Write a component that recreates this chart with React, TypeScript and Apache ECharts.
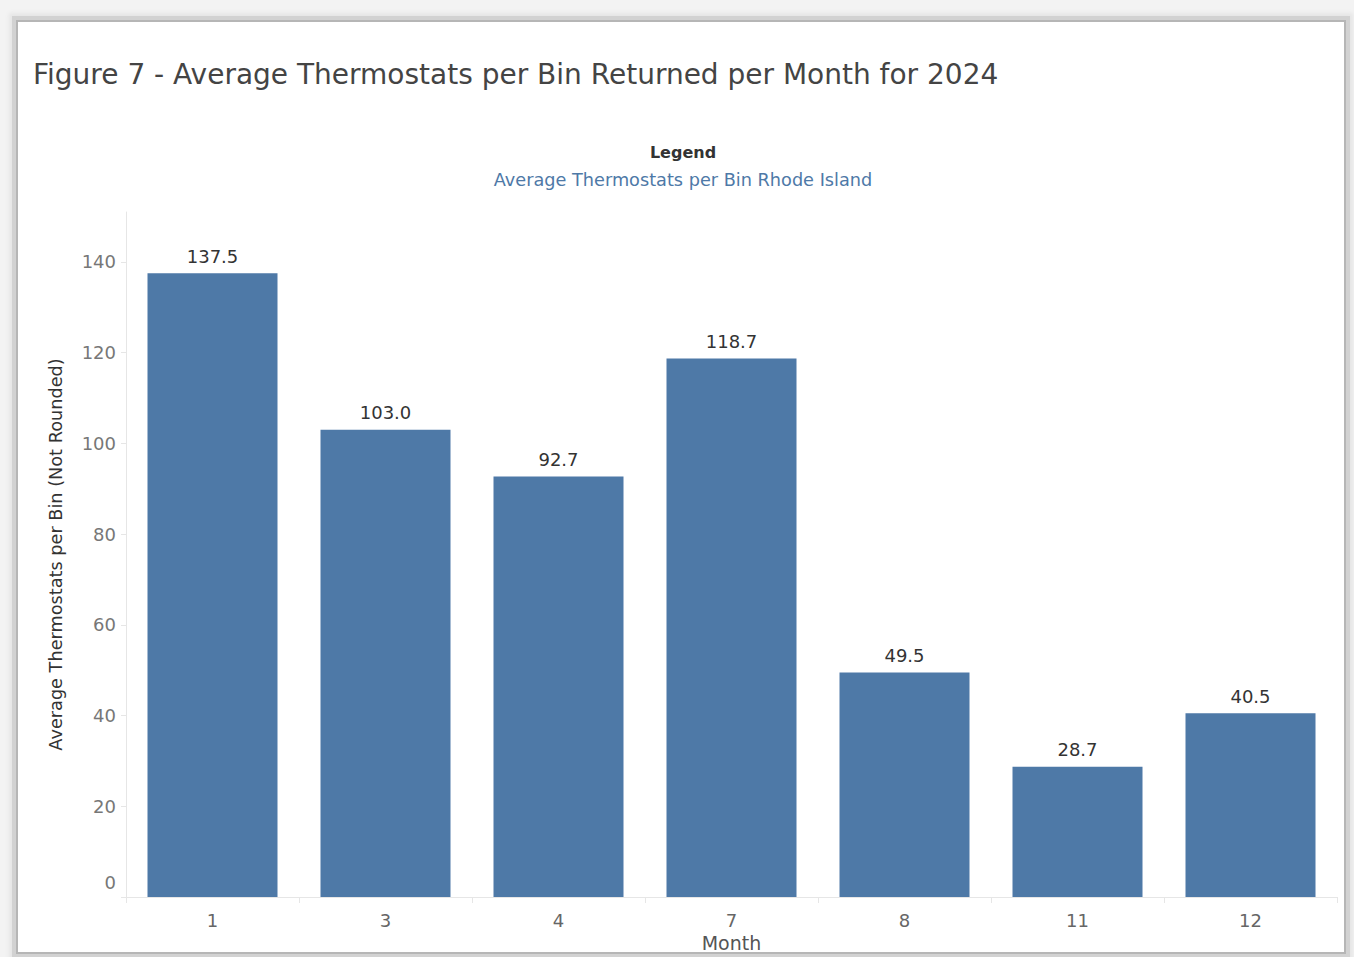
import React, { useEffect, useRef } from "react";
import * as echarts from "echarts";

const months = ["1", "3", "4", "7", "8", "11", "12"];
const avgPerBin = [137.5, 103.0, 92.7, 118.7, 49.5, 28.7, 40.5];
const titleText = "Figure 7 - Average Thermostats per Bin Returned per Month for 2024";
const legendTitle = "Legend";
const legendItem = "Average Thermostats per Bin Rhode Island";
const yAxisName = "Average Thermostats per Bin (Not Rounded)";
const xAxisName = "Month";

const FONT = "'DejaVu Sans', sans-serif";

export default function App() {
  const ref = useRef<HTMLDivElement>(null);

  useEffect(() => {
    document.body.style.margin = "0";
    const chart = echarts.init(ref.current!, undefined, { renderer: "svg" });
    chart.setOption({
      animation: false,
      backgroundColor: "transparent",
      textStyle: { fontFamily: FONT },
      title: [
        {
          text: titleText,
          left: 28,
          top: 55,
          textStyle: { fontFamily: FONT, fontSize: 28, fontWeight: "normal", color: "#444" },
        },
      ],
      graphic: [
        {
          type: "text",
          x: 683,
          y: 152,
          style: {
            text: legendTitle,
            fontFamily: FONT,
            fontSize: 16,
            fontWeight: "bold",
            fill: "#333",
            align: "center",
            verticalAlign: "middle",
          },
        },
        {
          type: "text",
          x: 683,
          y: 180,
          style: {
            text: legendItem,
            fontFamily: FONT,
            fontSize: 17.7,
            fill: "#4e79a7",
            align: "center",
            verticalAlign: "middle",
          },
        },
      ],
      grid: { left: 126, right: 17, top: 212, bottom: 60, containLabel: false, outerBoundsMode: "none" },
      xAxis: {
        type: "category",
        data: months,
        name: xAxisName,
        nameLocation: "middle",
        nameGap: 35,
        nameTextStyle: { fontFamily: FONT, fontSize: 19, color: "#555" },
        axisLine: { show: true, lineStyle: { color: "#e6e6e6", width: 1 } },
        axisTick: { show: true, length: 6, lineStyle: { color: "#e6e6e6" } },
        axisLabel: { fontFamily: FONT, fontSize: 18, color: "#666", margin: 14 },
      },
      yAxis: {
        type: "value",
        min: 0,
        max: 151,
        interval: 20,
        name: yAxisName,
        nameLocation: "middle",
        nameGap: 61,
        nameRotate: 90,
        nameTextStyle: { fontFamily: FONT, fontSize: 17.7, color: "#333" },
        axisLine: { show: true, lineStyle: { color: "#e6e6e6", width: 1 } },
        axisTick: { show: true, length: 5, lineStyle: { color: "#e6e6e6" } },
        splitLine: { show: false },
        axisLabel: {
          fontFamily: FONT,
          fontSize: 18,
          color: "#777",
          margin: 10,
          showMaxLabel: false,
          formatter: (v: number) => (v % 20 !== 0 ? "" : v === 0 ? "{z|0}" : String(v)),
          rich: { z: { fontFamily: FONT, fontSize: 18, color: "#777", padding: [0, 0, 30, 0] } },
        },
      },
      series: [
        {
          type: "bar",
          data: avgPerBin,
          barWidth: 130,
          itemStyle: { color: "#4e79a7" },
          label: {
            show: true,
            position: "top",
            distance: 8,
            fontFamily: FONT,
            fontSize: 18,
            color: "#333",
            formatter: (p: any) => Number(p.value).toFixed(1),
          },
        },
      ],
    });
    return () => chart.dispose();
  }, []);

  return (
    <div style={{ position: "fixed", left: 0, top: 0, width: 1354, height: 957, background: "#f3f3f3", overflow: "hidden" }}>
      <div
        style={{
          position: "absolute",
          left: 18,
          top: 22,
          width: 1326,
          height: 930,
          background: "#fff",
          boxShadow: "0 0 0 2px #b6b6b6, 0 0 0 6px #d2d2d2, 0 0 4px 9px #e6e6e6",
        }}
      />
      <div ref={ref} style={{ position: "absolute", left: 0, top: 0, width: 1354, height: 957 }} />
    </div>
  );
}
